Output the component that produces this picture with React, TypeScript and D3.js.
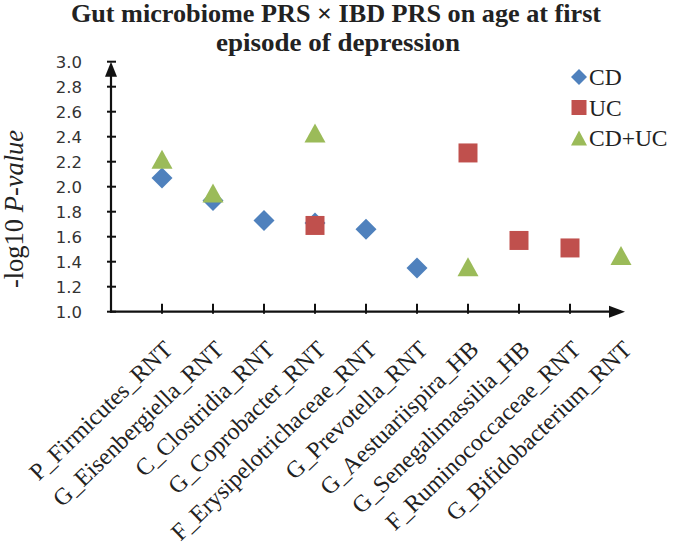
import React from "react";
import * as d3 from "d3";

const categories = [
  "P_Firmicutes_RNT",
  "G_Eisenbergiella_RNT",
  "C_Clostridia_RNT",
  "G_Coprobacter_RNT",
  "F_Erysipelotrichaceae_RNT",
  "G_Prevotella_RNT",
  "G_Aestuariispira_HB",
  "G_Senegalimassilia_HB",
  "F_Ruminococcaceae_RNT",
  "G_Bifidobacterium_RNT",
];

// null = no point for that category
const cdValues = [2.07, 1.89, 1.73, 1.71, 1.66, 1.35, null, null, null, null];
const ucValues = [null, null, null, 1.69, null, null, 2.27, 1.57, 1.51, null];
const cdUcValues = [2.22, 1.95, null, 2.43, null, null, 1.36, null, null, 1.45];

const yTicks = [1.0, 1.2, 1.4, 1.6, 1.8, 2.0, 2.2, 2.4, 2.6, 2.8, 3.0];
const seriesNames = ["CD", "UC", "CD+UC"];
const colors = ["#4F81BD", "#C0504D", "#9BBB59"];

const W = 676;
const H = 549;
const x0 = 111;
const yBottom = 311.7;
const yTop = 61.7;

export default function App() {
  const y = d3.scaleLinear().domain([1, 3]).range([yBottom, yTop]);
  const x = d3.scaleLinear().domain([-1, 9]).range([x0, 621]);
  const serif = "'Liberation Serif', 'Times New Roman', serif";

  const diamond = (cx: number, cy: number, r: number) =>
    `M${cx},${cy - r}L${cx + r},${cy}L${cx},${cy + r}L${cx - r},${cy}Z`;
  const square = (cx: number, cy: number, r: number) =>
    `M${cx - r},${cy - r}h${2 * r}v${2 * r}h${-2 * r}Z`;
  const triangle = (cx: number, cy: number, w: number, h: number) =>
    `M${cx},${cy - h / 2}L${cx + w / 2},${cy + h / 2}L${cx - w / 2},${cy + h / 2}Z`;

  const series = [cdValues, ucValues, cdUcValues];

  const marker = (s: number, cx: number, cy: number, big: boolean) => {
    if (s === 0) return diamond(cx, cy, big ? 10.5 : 8);
    if (s === 1) return square(cx, cy, big ? 9.5 : 7.5);
    return triangle(cx, cy, big ? 21 : 16, big ? 19 : 15);
  };

  return (
    <svg width={W} height={H} style={{ display: "block", position: "absolute", left: 0, top: 0 }}>
      <rect width={W} height={H} fill="#fff" />
      {/* Title */}
      <text x={336} y={22} textAnchor="middle" fontFamily={serif} fontWeight="bold" fontSize={26.2} fill="#222">
        Gut microbiome PRS × IBD PRS on age at first
      </text>
      <text x={338} y={51} textAnchor="middle" fontFamily={serif} fontWeight="bold" fontSize={26.2} fill="#222"
        textLength={244} lengthAdjust="spacingAndGlyphs">
        episode of depression
      </text>

      {/* Y axis label */}
      <text
        transform={`translate(23,209) rotate(-90)`}
        textAnchor="middle"
        fontFamily={serif}
        fontSize={26.5}
        fill="#222"
      >
        -log10 <tspan fontStyle="italic">P-value</tspan>
      </text>

      {/* Y ticks */}
      {yTicks.map((t) => (
        <g key={t}>
          <line x1={x0 - 4} x2={x0 + 5} y1={y(t)} y2={y(t)} stroke="#111" strokeWidth={2} />
          <text
            x={82}
            y={y(t)}
            dy="0.36em"
            textAnchor="end"
            fontFamily="'DejaVu Sans', sans-serif"
            fontSize={16.5}
            fill="#333"
          >
            {t.toFixed(1)}
          </text>
        </g>
      ))}

      {/* X ticks */}
      {categories.map((c, i) => (
        <g key={c}>
          {i < categories.length - 1 && (
            <line x1={x(i)} x2={x(i)} y1={yBottom - 8} y2={yBottom + 2} stroke="#111" strokeWidth={2} />
          )}
          <text
            transform={`translate(${x(i) + 12},351) rotate(-44)`}
            textAnchor="end"
            fontFamily={serif}
            fontSize={24}
            fill="#222"
          >
            {c}
          </text>
        </g>
      ))}

      {/* Axes */}
      <line x1={x0} x2={x0} y1={yBottom + 1} y2={yTop + 4} stroke="#111" strokeWidth={2.2} />
      <path d={`M${x0},${yTop}L${x0 + 6},${yTop + 15}L${x0 - 6},${yTop + 15}Z`} fill="#111" />
      <line x1={x0 - 1} x2={x(9)} y1={yBottom} y2={yBottom} stroke="#111" strokeWidth={2.2} />
      <path d={`M${x(9) + 4},${yBottom}L${x(9) - 12},${yBottom - 6}L${x(9) - 12},${yBottom + 6}Z`} fill="#111" />

      {/* Points */}
      {series.map((vals, s) =>
        vals.map((v, i) =>
          v == null ? null : (
            <path key={`${s}-${i}`} d={marker(s, x(i), y(v), true)} fill={colors[s]} />
          )
        )
      )}

      {/* Legend */}
      {seriesNames.map((n, s) => (
        <g key={n}>
          <path d={marker(s, 579, 77 + s * 30.5, false)} fill={colors[s]} />
          <text x={589} y={77 + s * 30.5} dy="0.35em" fontFamily={serif} fontSize={23.5} fill="#222">
            {n}
          </text>
        </g>
      ))}
    </svg>
  );
}
